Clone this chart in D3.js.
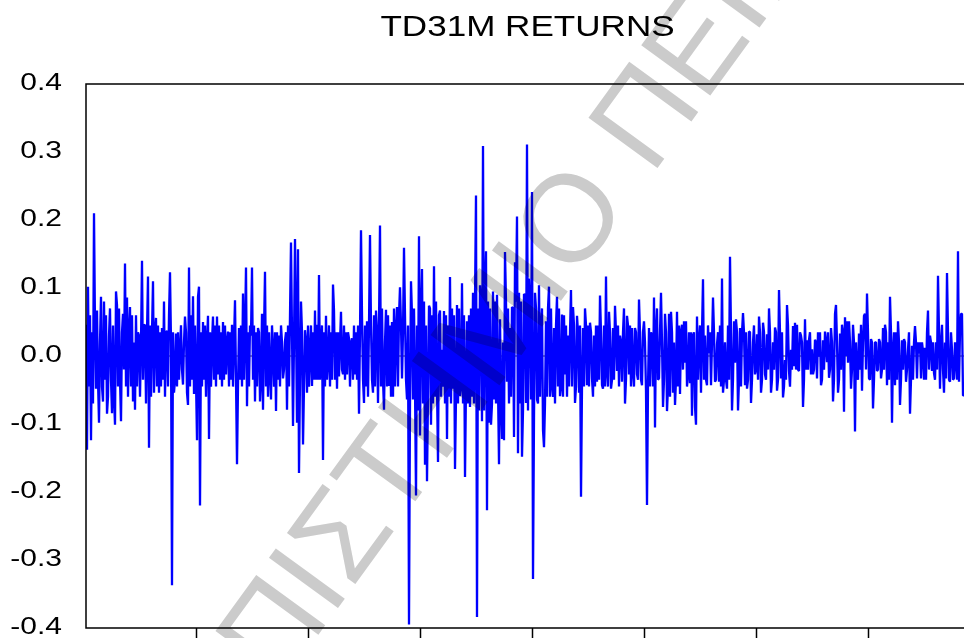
<!DOCTYPE html>
<html><head><meta charset="utf-8">
<script src="https://cdn.jsdelivr.net/npm/d3@7"></script>
<style>body{margin:0;background:#fff}svg{display:block}</style>
</head><body>
<svg id="c" width="964" height="638"></svg>
<script>
const title = "TD31M RETURNS";
const yTicks = [-0.4,-0.3,-0.2,-0.1,0,0.1,0.2,0.3,0.4];
const yTickLabels = ["-0.4","-0.3","-0.2","-0.1","0.0","0.1","0.2","0.3","0.4"];
const xTicks = [110,222,334,446,558,670,782];
const watermark = "ΠΑΝΕΠΙΣΤΗΜΙΟ ΠΕΙΡΑΙΩΣ";
const returns = [
[0,0.046],[1,-0.138],[2,0.102],[5,-0.124],[8,0.210],[10,-0.048],[11,0.067],[13,-0.098],[15,0.087],[17,-0.067],[18,0.080],[21,-0.085],[23,0.030],[26,-0.084],[29,-0.101],[30,0.095],[31,0.075],[35,-0.096],[37,0.062],[39,0.136],[41,0.086],[44,0.072],[47,-0.067],[49,-0.079],[53,0.030],[56,0.140],[59,0.046],[62,0.117],[63,-0.135],[67,0.110],[68,-0.054],[70,0.056],[73,-0.054],[76,0.041],[78,0.080],[81,0.037],[84,0.123],[86,-0.337],[88,-0.054],[90,0.033],[94,0.009],[97,-0.042],[99,0.058],[101,-0.054],[102,-0.072],[103,0.130],[107,0.088],[108,-0.056],[111,-0.124],[112,0.087],[113,0.102],[114,-0.220],[117,0.050],[120,-0.060],[122,0.059],[123,-0.122],[127,0.058],[131,0.058],[132,-0.027],[137,0.050],[140,-0.027],[142,0.036],[146,0.046],[149,0.082],[151,-0.159],[153,0.041],[157,0.092],[160,0.130],[161,-0.074],[165,0.030],[166,0.130],[169,-0.067],[172,0.041],[174,-0.067],[176,0.062],[177,-0.079],[179,0.124],[185,-0.064],[187,0.009],[190,-0.081],[193,0.030],[197,-0.033],[199,0.022],[201,-0.079],[205,0.167],[207,-0.103],[209,0.172],[211,-0.098],[212,0.157],[213,-0.172],[215,0.080],[217,-0.130],[219,0.038],[221,-0.054],[224,0.004],[226,-0.044],[229,0.067],[231,0.046],[233,0.119],[235,0.009],[237,-0.153],[240,0.059],[242,-0.006],[247,0.105],[248,0.067],[251,-0.048],[253,-0.030],[255,0.065],[257,-0.027],[261,-0.027],[263,0.026],[266,0.026],[269,-0.027],[273,-0.085],[275,0.185],[278,-0.069],[281,0.051],[284,0.178],[287,-0.054],[290,0.067],[292,-0.069],[294,0.192],[298,-0.079],[300,0.068],[303,-0.044],[306,0.050],[311,0.072],[314,0.101],[316,-0.033],[318,0.159],[321,-0.064],[323,-0.395],[325,0.110],[327,-0.064],[330,-0.205],[333,0.176],[334,-0.117],[336,0.128],[339,-0.160],[341,-0.184],[343,0.074],[345,-0.101],[348,0.132],[352,-0.156],[354,0.067],[356,0.009],[358,0.066],[361,-0.122],[364,0.116],[367,-0.048],[369,-0.166],[371,0.075],[374,-0.059],[376,0.107],[379,-0.178],[381,0.051],[384,-0.075],[387,0.093],[390,0.236],[391,-0.384],[394,0.104],[396,-0.096],[397,0.309],[400,0.154],[401,-0.227],[403,-0.098],[405,-0.101],[407,0.095],[408,-0.064],[413,-0.159],[414,0.054],[416,-0.122],[417,0.020],[418,-0.124],[419,0.153],[421,-0.038],[424,0.041],[426,0.072],[428,-0.119],[429,0.138],[431,0.205],[432,-0.143],[433,0.093],[436,-0.148],[438,0.091],[440,-0.069],[441,0.311],[443,0.114],[445,-0.064],[446,0.241],[447,-0.328],[449,0.093],[451,-0.064],[453,0.104],[455,0.041],[457,-0.109],[458,-0.134],[460,0.051],[463,0.102],[466,-0.043],[468,0.041],[471,0.087],[474,-0.059],[476,0.061],[479,-0.027],[482,0.030],[485,0.097],[487,0.072],[489,-0.069],[491,0.059],[493,-0.054],[495,-0.207],[497,0.041],[499,0.070],[501,-0.043],[504,0.049],[506,-0.033],[508,0.030],[511,-0.038],[514,0.089],[516,-0.043],[517,-0.048],[520,0.117],[521,-0.022],[523,0.065],[525,-0.048],[527,0.041],[529,0.074],[531,-0.022],[534,0.030],[536,-0.038],[538,0.070],[539,-0.070],[541,0.059],[543,-0.027],[546,0.041],[547,-0.022],[549,0.041],[551,-0.027],[553,0.083],[556,-0.043],[558,0.051],[560,-0.051],[561,-0.219],[563,0.041],[566,0.030],[568,0.086],[569,-0.105],[571,0.070],[573,-0.033],[575,0.093],[577,-0.075],[579,0.062],[581,-0.081],[583,0.062],[585,0.065],[587,-0.054],[589,-0.072],[591,0.065],[594,-0.056],[596,0.046],[597,-0.020],[598,0.051],[599,-0.010],[600,0.051],[602,-0.027],[604,-0.040],[606,-0.088],[607,0.030],[609,-0.075],[610,-0.101],[611,0.058],[613,0.020],[615,-0.054],[617,0.113],[619,0.030],[621,-0.043],[623,0.004],[625,-0.043],[627,0.086],[629,-0.038],[631,0.017],[633,-0.038],[636,0.114],[637,-0.054],[639,0.020],[641,-0.048],[644,0.146],[646,-0.080],[648,0.051],[649,-0.010],[650,0.054],[652,-0.080],[654,0.041],[657,0.063],[659,-0.043],[661,-0.048],[663,0.036],[665,-0.069],[667,0.020],[669,-0.027],[671,0.032],[673,0.058],[675,-0.054],[677,0.049],[679,-0.027],[681,0.032],[683,0.070],[685,-0.054],[687,0.020],[689,0.042],[691,-0.051],[693,0.097],[695,-0.033],[697,-0.061],[699,-0.006],[701,0.075],[703,-0.022],[705,0.009],[707,0.044],[708,-0.015],[709,0.049],[710,-0.020],[711,0.046],[713,-0.022],[715,0.030],[717,-0.075],[719,0.054],[721,0.023],[722,-0.020],[723,0.024],[725,-0.027],[726,0.010],[727,-0.027],[729,0.024],[731,-0.033],[733,-0.001],[735,-0.043],[737,0.023],[739,0.036],[741,-0.009],[743,-0.032],[745,0.041],[747,-0.067],[749,0.062],[750,0.075],[752,-0.054],[754,0.033],[756,0.046],[758,-0.082],[759,0.057],[760,0.000],[761,0.051],[762,-0.010],[763,0.051],[765,-0.048],[767,0.046],[769,-0.111],[771,-0.027],[773,0.033],[775,0.046],[776,-0.051],[778,0.059],[779,0.062],[781,0.092],[783,-0.033],[785,0.025],[787,-0.077],[789,0.020],[791,-0.022],[793,0.025],[795,-0.033],[797,0.041],[799,0.046],[801,-0.043],[804,0.087],[806,-0.098],[807,0.009],[809,-0.043],[812,0.051],[814,-0.072],[816,0.023],[818,0.025],[820,-0.038],[822,0.009],[824,-0.085],[826,0.015],[829,0.044],[831,-0.033],[833,0.004],[835,-0.033],[837,0.007],[839,0.012],[840,-0.035],[842,0.067],[844,0.030],[846,-0.022],[848,-0.025],[850,0.020],[852,0.118],[854,-0.048],[856,0.046],[858,-0.054],[860,-0.033],[861,0.122],[864,-0.038],[866,0.009],[868,-0.033],[870,-0.006],[872,0.154],[873,-0.038],[875,0.062],[876,0.062],[877,-0.058],[878,-0.058]
];
// [observation, return] - in-between moves of the dense band (estimated)
const returnsFill = [
[3,-0.045],[4,0.06],[6,0.035],[7,-0.07],[9,0.045],[12,-0.035],[14,0.02],[16,-0.045],[19,-0.035],[20,0.06],[22,-0.06],[24,0.07],[25,-0.035],[27,0.045],[28,-0.06],[32,-0.045],[33,0.07],[34,-0.035],[36,0.035],[38,-0.02],[40,-0.045],[42,-0.06],[43,0.035],[45,-0.045],[46,0.06],[48,0.02],[50,0.06],[51,-0.045],[52,0.035],[54,-0.06],[55,0.02],[57,-0.035],[58,0.045],[60,-0.07],[61,0.035],[64,0.045],[65,-0.06],[66,0.035],[69,0.035],[71,-0.045],[72,0.045],[74,0.035],[75,-0.045],[77,-0.035],[79,-0.06],[80,0.035],[82,-0.045],[83,0.06],[85,0.02],[87,0.035],[89,-0.035],[91,-0.045],[92,0.035],[93,-0.035],[95,0.045],[96,-0.02],[98,0.02],[100,0.035],[104,-0.045],[105,0.06],[106,-0.035],[109,0.045],[110,-0.035],[115,0.035],[116,-0.045],[118,-0.035],[119,0.045],[121,0.02],[124,0.035],[125,-0.045],[126,0.02],[128,-0.035],[129,0.045],[130,-0.045],[133,0.045],[134,-0.035],[135,0.035],[136,-0.045],[138,-0.035],[139,0.045],[141,0.02],[143,-0.045],[144,0.035],[145,-0.035],[147,-0.045],[148,0.02],[150,-0.035],[152,-0.045],[154,-0.035],[155,0.045],[156,-0.045],[158,-0.035],[159,0.035],[162,0.035],[163,-0.045],[164,0.045],[167,-0.035],[168,0.045],[170,0.035],[171,-0.045],[173,0.035],[175,-0.035],[178,0.035],[180,-0.045],[181,0.045],[182,-0.06],[183,0.035],[184,-0.02],[186,0.045],[188,-0.045],[189,0.035],[191,0.035],[192,-0.035],[194,-0.045],[195,0.045],[196,0.02],[198,-0.02],[200,0.035],[202,0.045],[203,-0.045],[204,0.06],[206,0.035],[208,0.02],[210,0.045],[214,-0.035],[216,0.035],[218,-0.045],[220,0.02],[222,0.045],[223,-0.045],[225,0.045],[227,0.035],[228,-0.035],[230,-0.035],[232,-0.035],[234,-0.035],[236,0.045],[238,0.035],[239,-0.045],[241,-0.035],[243,0.045],[244,-0.045],[245,0.035],[246,-0.035],[249,-0.035],[250,0.035],[252,0.035],[254,0.02],[256,-0.02],[258,0.045],[259,-0.035],[260,0.035],[262,0.035],[264,-0.045],[265,0.02],[267,-0.035],[268,0.045],[270,0.035],[271,-0.035],[272,0.045],[274,0.035],[276,0.06],[277,-0.035],[279,0.045],[280,-0.045],[282,-0.06],[283,0.045],[285,0.045],[286,-0.035],[288,0.06],[289,-0.045],[291,0.035],[293,0.045],[295,-0.045],[296,0.07],[297,-0.035],[299,0.02],[301,-0.045],[302,0.06],[304,0.045],[305,-0.06],[307,-0.06],[308,0.07],[309,-0.045],[310,0.035],[312,-0.045],[313,0.06],[315,0.045],[317,0.035],[319,0.06],[320,-0.035],[322,0.045],[324,-0.07],[326,0.06],[328,0.07],[329,-0.045],[331,0.045],[332,-0.08],[335,0.06],[337,-0.07],[338,0.08],[340,0.045],[342,-0.06],[344,0.07],[346,0.06],[347,-0.07],[349,-0.06],[350,0.08],[351,-0.045],[353,0.06],[355,-0.06],[357,-0.045],[359,-0.07],[360,0.06],[362,0.045],[363,-0.06],[365,-0.07],[366,0.07],[368,0.06],[370,-0.06],[372,-0.07],[373,0.07],[375,-0.045],[377,-0.07],[378,0.06],[380,-0.045],[382,-0.07],[383,0.06],[385,0.07],[386,-0.06],[388,-0.07],[389,0.08],[392,0.07],[393,-0.08],[395,0.07],[398,-0.08],[399,0.09],[402,0.08],[404,0.07],[406,-0.07],[409,0.08],[410,-0.07],[411,0.09],[412,-0.045],[415,-0.07],[420,0.08],[422,0.07],[423,-0.07],[425,-0.06],[427,0.07],[430,0.08],[434,-0.07],[435,0.08],[437,-0.08],[439,0.09],[442,-0.08],[444,0.07],[448,-0.09],[450,0.07],[452,-0.07],[454,-0.06],[456,0.07],[459,-0.07],[461,-0.06],[462,0.07],[464,-0.06],[465,0.07],[467,-0.06],[469,-0.07],[470,0.045],[472,-0.045],[473,0.07],[475,-0.045],[477,-0.06],[478,0.06],[480,0.045],[481,-0.06],[483,-0.045],[484,0.035],[486,-0.045],[488,0.045],[490,-0.045],[492,0.035],[494,0.045],[496,-0.045],[498,-0.045],[500,0.045],[502,0.045],[503,-0.045],[505,0.035],[507,-0.06],[509,-0.045],[510,0.045],[512,0.045],[513,-0.035],[515,0.035],[518,0.045],[519,-0.045],[522,-0.045],[524,0.035],[526,-0.035],[528,-0.035],[530,0.035],[532,0.045],[533,-0.045],[535,0.02],[537,0.035],[540,-0.035],[542,0.045],[544,0.045],[545,-0.045],[548,-0.045],[550,0.035],[552,-0.035],[554,0.035],[555,-0.035],[557,0.035],[559,0.02],[562,-0.045],[564,-0.045],[565,0.035],[567,-0.045],[570,0.035],[572,-0.035],[574,0.035],[576,0.02],[578,-0.035],[580,0.035],[582,-0.045],[584,-0.06],[586,0.035],[588,0.02],[590,-0.035],[592,-0.045],[593,0.045],[595,0.035],[601,-0.045],[603,0.035],[605,0.035],[608,0.035],[612,-0.035],[614,0.045],[616,0.035],[618,-0.035],[620,-0.035],[622,0.045],[624,0.035],[626,0.02],[628,0.035],[630,-0.035],[632,0.035],[634,0.045],[635,-0.045],[638,-0.035],[640,-0.035],[642,0.045],[643,-0.035],[645,0.035],[647,-0.035],[651,0.035],[653,-0.035],[655,-0.045],[656,0.035],[658,0.035],[660,0.035],[662,-0.035],[664,0.035],[666,-0.035],[668,0.045],[670,-0.02],[672,-0.035],[674,0.035],[676,-0.035],[678,0.035],[680,-0.035],[682,-0.02],[684,0.035],[686,-0.035],[688,-0.02],[690,0.035],[692,-0.035],[694,0.035],[696,0.035],[698,-0.045],[700,-0.035],[702,0.045],[704,-0.045],[706,-0.02],[712,-0.02],[714,0.035],[716,0.02],[718,-0.035],[720,-0.02],[724,0.035],[728,-0.02],[730,0.02],[732,0.035],[734,0.035],[736,-0.035],[738,-0.02],[740,0.02],[742,0.035],[744,-0.02],[746,0.02],[748,-0.035],[751,0.02],[753,-0.035],[755,-0.02],[757,0.035],[764,0.02],[766,-0.02],[768,0.02],[770,0.02],[772,-0.035],[774,-0.02],[777,0.02],[780,-0.02],[782,0.035],[784,-0.035],[786,0.02],[788,-0.035],[790,0.02],[792,-0.02],[794,0.02],[796,-0.02],[798,-0.02],[800,0.035],[802,0.02],[803,-0.035],[805,0.035],[808,0.035],[810,0.035],[811,-0.035],[813,0.02],[815,-0.035],[817,-0.02],[819,0.02],[821,-0.02],[823,0.035],[825,-0.035],[827,-0.035],[828,0.02],[830,0.02],[832,0.02],[834,0.02],[836,0.02],[838,-0.035],[841,0.035],[843,-0.02],[845,0.02],[847,0.02],[849,-0.035],[851,-0.02],[853,0.035],[855,0.02],[857,-0.02],[859,0.02],[862,0.035],[863,-0.035],[865,0.035],[867,-0.035],[869,0.02],[871,-0.035],[874,0.035]
];

const W = 964, H = 638;
const L = 86, R = 964, T = 84, B = 628;
const svg = d3.select("#c");
const x = d3.scaleLinear().domain([0, 878]).range([L, R]);
const y = d3.scaleLinear().domain([-0.4, 0.4]).range([B, T]);
const font = "'Liberation Sans', Arial, Helvetica, sans-serif";
const series = returns.concat(returnsFill).sort((a, b) => a[0] - b[0]);

// title
svg.append("text")
  .attr("transform", "translate(527.5,36) scale(1.21,1)")
  .attr("text-anchor", "middle")
  .attr("font-family", font).attr("font-size", 29).attr("fill", "#000")
  .text(title);

// y labels
svg.append("g").selectAll("text").data(yTicks).join("text")
  .attr("transform", d => `translate(62,${y(d) + 5.5}) scale(1.25,1)`)
  .attr("text-anchor", "end")
  .attr("font-family", font).attr("font-size", 24).attr("fill", "#000")
  .text((d, i) => yTickLabels[i]);

// clip
svg.append("clipPath").attr("id", "plotclip").append("rect")
  .attr("x", L).attr("y", T).attr("width", R - L + 10).attr("height", B - T);

// zero line
svg.append("line")
  .attr("x1", L).attr("x2", W).attr("y1", y(0)).attr("y2", y(0))
  .attr("stroke", "#333").attr("stroke-width", 1);

// series
const line = d3.line().x(d => x(d[0])).y(d => y(d[1]));
svg.append("path").datum(series)
  .attr("clip-path", "url(#plotclip)")
  .attr("d", line)
  .attr("fill", "none").attr("stroke", "#0000ff")
  .attr("stroke-width", 2.3).attr("stroke-linejoin", "bevel");

// x ticks
const xAxis = d3.axisBottom(x).tickValues(xTicks).tickSize(10).tickSizeOuter(0).tickFormat("");
const gx = svg.append("g").attr("transform", `translate(0,${B})`).call(xAxis);
gx.select(".domain").remove();
gx.selectAll(".tick line").attr("stroke", "#000").attr("stroke-width", 1.5);

// frame (right side extends beyond view)
svg.append("path")
  .attr("d", `M${W + 10},${T}H${L}V${B}H${W + 10}`)
  .attr("fill", "none").attr("stroke", "#000").attr("stroke-width", 1.5);

// watermark
const fs = 124;
const wg = svg.append("g").style("mix-blend-mode", "multiply");
const wt = wg.append("text")
  .attr("font-family", font).attr("font-size", fs).attr("fill", "#cbcbcb")
  .attr("x", 0).attr("y", 0)
  .text(watermark);
const idx = watermark.indexOf("Ο");
const ext = wt.node().getExtentOfChar(idx);
const cx = ext.x + ext.width / 2, cy = -0.358 * fs;
wg.attr("transform", `translate(567,217) rotate(-54) translate(${-cx},${-cy})`);
</script>
</body></html>
